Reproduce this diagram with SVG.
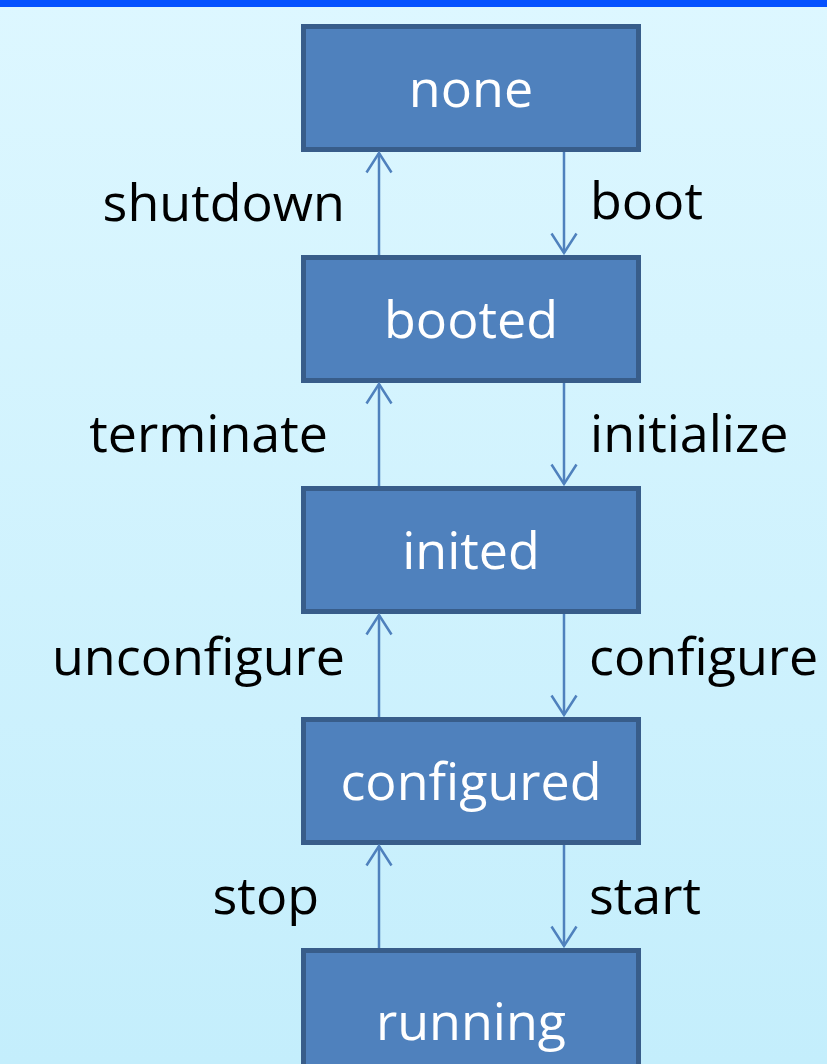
<svg xmlns="http://www.w3.org/2000/svg" width="827" height="1064" viewBox="0 0 827 1064">
  <defs>
    <linearGradient id="bg" x1="0" y1="0" x2="0" y2="1">
      <stop offset="0" stop-color="#DDF7FF"/>
      <stop offset="1" stop-color="#C4EEFC"/>
    </linearGradient>
    <!-- open chevron head, drawn pointing along +x -->
    <marker id="head" viewBox="0 0 24 28" refX="21.5" refY="14" markerWidth="24" markerHeight="28" markerUnits="userSpaceOnUse" orient="auto">
      <path d="M2 1.5 L21.5 14 L2 26.5" fill="none" stroke="#4F81BD" stroke-width="2.5"/>
    </marker>
    <style>
      .state rect { fill: #4F81BD; stroke: #385D8A; stroke-width: 5; }
      .state text { font-family: "Open Sans", "Noto Sans", "DejaVu Sans", sans-serif; font-size: 52px; fill: #FFFFFF; text-anchor: middle; }
      .lbl { font-family: "Open Sans", "Noto Sans", "DejaVu Sans", sans-serif; font-size: 52px; fill: #000000; }
      .lbl.l { text-anchor: end; }
      .lbl.r { text-anchor: start; }
      .edge { stroke: #4F81BD; stroke-width: 2.5; fill: none; }
    </style>
  </defs>

  <!-- backdrop and header strip -->
  <rect x="0" y="0" width="827" height="1064" fill="url(#bg)"/>
  <rect x="0" y="0" width="827" height="7" fill="#0552FF"/>

  <!-- states -->
  <g id="none" class="state">
    <rect x="303.5" y="26.5" width="335" height="123"/>
    <text x="471" y="107">none</text>
  </g>
  <g id="booted" class="state">
    <rect x="303.5" y="257.5" width="335" height="123"/>
    <text x="471" y="338">booted</text>
  </g>
  <g id="inited" class="state">
    <rect x="303.5" y="488.5" width="335" height="123"/>
    <text x="471" y="569">inited</text>
  </g>
  <g id="configured" class="state">
    <rect x="303.5" y="719.5" width="335" height="123"/>
    <text x="471" y="800">configured</text>
  </g>
  <g id="running" class="state">
    <rect x="303.5" y="950.5" width="335" height="123"/>
    <text x="471" y="1040">running</text>
  </g>

  <!-- transitions -->
  <g id="connectors">
    <line class="edge" x1="379" y1="255" x2="379" y2="153" marker-end="url(#head)"/>
    <line class="edge" x1="564" y1="152" x2="564" y2="253" marker-end="url(#head)"/>
    <line class="edge" x1="379" y1="486" x2="379" y2="384" marker-end="url(#head)"/>
    <line class="edge" x1="564" y1="383" x2="564" y2="484" marker-end="url(#head)"/>
    <line class="edge" x1="379" y1="717" x2="379" y2="615" marker-end="url(#head)"/>
    <line class="edge" x1="564" y1="614" x2="564" y2="715" marker-end="url(#head)"/>
    <line class="edge" x1="379" y1="948" x2="379" y2="846" marker-end="url(#head)"/>
    <line class="edge" x1="564" y1="845" x2="564" y2="946" marker-end="url(#head)"/>
  </g>

  <!-- transition labels -->
  <g id="labels">
    <text class="lbl l" x="345" y="221">shutdown</text>
    <text class="lbl r" x="590" y="219">boot</text>
    <text class="lbl l" x="328" y="452">terminate</text>
    <text class="lbl r" x="590" y="452">initialize</text>
    <text class="lbl l" x="345" y="675">unconfigure</text>
    <text class="lbl r" x="589" y="675">configure</text>
    <text class="lbl l" x="319" y="914">stop</text>
    <text class="lbl r" x="589" y="914">start</text>
  </g>
</svg>
